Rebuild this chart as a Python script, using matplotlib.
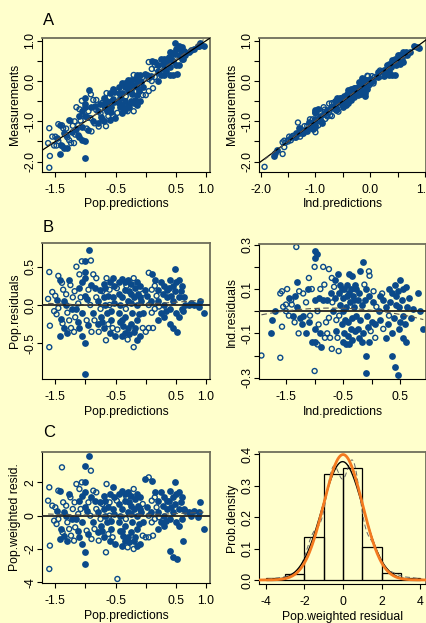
import numpy as np
import matplotlib
matplotlib.use("Agg")
import matplotlib.pyplot as plt

plt.rcParams['font.family'] = ['Liberation Sans', 'DejaVu Sans']

# population predictions, residuals, weighted residuals, open-symbol flag
pop_pred = [-1.60, -1.62, -1.59, -1.60, -1.55, -1.50, -1.45, -1.42, -1.39, -1.37,
            -1.35, -1.48, -1.45, -1.41, -1.42, -1.35, -1.30, -1.38, -1.30, -1.27,
            -1.33, -1.25, -1.21, -1.22, -1.52, -1.47, -1.28, -1.24, -1.32, -1.18,
            -1.15, -1.06, -1.00, -1.00, -1.00, -0.94, -0.91, -1.10, -1.05, -1.10,
            -1.00, -0.95, -1.15, -1.05, -0.98, -1.10, -1.19, -1.05, -1.00, -1.00,
            -0.90, -0.95, -0.92, -1.12, -1.17, -0.88, -0.90, -1.08, -0.97, -1.13,
            -0.82, -0.85, -0.76, -0.70, -0.65, -0.60, -0.55, -0.80, -0.75, -0.70,
            -0.65, -0.60, -0.55, -0.85, -0.80, -0.70, -0.66, -0.60, -0.55, -0.51,
            -0.75, -0.60, -0.52, -0.58, -0.68, -0.82, -0.78, -0.72, -0.63, -0.57,
            -0.87, -0.73, -0.62, -0.53, -0.68,
            -0.45, -0.40, -0.35, -0.30, -0.25, -0.20, -0.15, -0.10, -0.45, -0.40,
            -0.35, -0.30, -0.25, -0.20, -0.15, -0.10, -0.05, -0.45, -0.40, -0.35,
            -0.30, -0.25, -0.20, -0.15, -0.10, -0.05, -0.40, -0.35, -0.30, -0.20,
            -0.15, -0.05, 0.00, -0.48, -0.42, -0.33, -0.28, -0.22, -0.18, -0.12,
            -0.08, -0.38, -0.27, -0.17, -0.47, -0.32, -0.02, -0.24, -0.43, -0.13,
            0.05, 0.10, 0.10, 0.15, 0.20, 0.25, 0.30, 0.35, 0.40, 0.45,
            0.48, 0.50, 0.55, 0.60, 0.05, 0.10, 0.15, 0.20, 0.25, 0.30,
            0.35, 0.40, 0.45, 0.50, 0.55, 0.05, 0.12, 0.20, 0.30, 0.40,
            0.45, 0.52, 0.55, 0.60, 0.02, 0.08, 0.18, 0.28, 0.38, 0.42,
            0.48, 0.33, 0.58, 0.22, 0.15,
            0.65, 0.72, 0.80, 0.86, 0.90, 0.88, 0.96, 0.62, 0.75, 0.64]
pop_res = [0.43, 0.08, -0.27, -0.55, 0.17, 0.12, 0.38, 0.33, 0.29, 0.20,
           0.05, -0.12, -0.04, -0.18, -0.40, -0.30, -0.36, -0.24, -0.10, -0.20,
           0.00, 0.26, 0.10, -0.05, -0.08, 0.06, 0.32, -0.30, 0.14, 0.18,
           0.50, 0.57, 0.58, 0.43, 0.35, 0.72, 0.58, 0.40, 0.30, 0.22,
           0.12, 0.20, -0.05, -0.10, -0.20, -0.30, -0.35, -0.41, -0.50, -0.90,
           -0.35, -0.26, 0.00, 0.02, -0.16, -0.10, 0.26, 0.10, 0.08, -0.22,
           0.35, 0.22, 0.20, 0.28, 0.35, 0.30, 0.35, 0.05, -0.05, 0.10,
           -0.10, 0.00, 0.10, -0.20, -0.25, -0.30, -0.46, -0.36, -0.30, -0.40,
           -0.15, 0.20, 0.25, -0.20, 0.00, 0.10, -0.35, 0.18, 0.12, -0.08,
           0.40, -0.22, -0.25, 0.02, 0.22,
           0.30, 0.34, 0.30, 0.32, 0.28, 0.35, 0.30, 0.25, 0.15, 0.10,
           0.20, 0.05, 0.15, 0.10, 0.00, 0.10, 0.15, -0.10, -0.20, -0.15,
           -0.30, -0.25, -0.35, -0.20, -0.40, -0.10, -0.40, -0.36, -0.45, -0.55,
           -0.45, -0.30, -0.35, 0.22, 0.00, -0.05, 0.18, -0.10, 0.22, -0.12,
           0.05, -0.28, -0.38, -0.30, -0.32, 0.25, 0.20, 0.02, -0.22, 0.14,
           0.42, 0.40, 0.20, 0.25, 0.20, 0.30, 0.25, 0.20, 0.32, 0.25,
           0.47, 0.30, 0.33, 0.25, 0.00, -0.10, -0.05, 0.05, -0.10, 0.00,
           0.10, -0.05, 0.05, -0.10, 0.10, -0.30, -0.30, -0.20, -0.15, -0.25,
           -0.30, -0.35, -0.15, -0.05, 0.12, 0.05, 0.12, 0.15, 0.22, 0.12,
           0.18, -0.08, 0.18, -0.02, 0.32,
           0.00, 0.00, 0.00, 0.00, 0.05, -0.02, -0.10, -0.08, 0.02, 0.10]
pop_wres = [1.7, 0.9, -1.8, -3.2, 0.6, 0.5, 1.5, 1.5, 2.9, 0.8,
            0.2, -0.5, -0.2, -0.8, -1.4, -1.2, -1.5, -1.0, -0.4, -0.8,
            0.0, 1.1, 0.4, -0.2, -0.3, 0.3, 1.3, -1.2, 0.6, 0.8,
            1.9, 2.0, 3.0, 2.0, 1.4, 3.6, 2.7, 1.6, 1.2, 0.9,
            0.5, 0.8, -0.2, -0.4, -0.9, -1.3, -1.5, -1.7, -2.2, -2.9,
            -1.4, -1.1, 0.0, 0.1, -0.7, -0.4, 1.1, 0.4, 0.3, -0.9,
            1.4, 0.9, 0.8, 1.2, 1.9, 1.3, 1.7, 0.2, -0.2, 0.4,
            -0.4, 0.0, 0.4, -0.8, -1.0, -1.3, -2.2, -1.5, -1.3, -1.7,
            -0.6, 0.8, 1.1, -0.8, 0.0, 0.4, -1.5, 0.7, 0.5, -0.3,
            1.5, -0.9, -1.1, 0.1, 0.9,
            1.3, 1.5, 1.3, 1.4, 1.2, 1.6, 1.3, 1.1, 0.7, 0.4,
            0.9, 0.2, 0.6, 0.4, 0.0, 0.4, 0.7, -0.4, -0.9, -0.6,
            -1.3, -1.0, -1.5, -0.8, -1.7, -0.4, -1.8, -1.5, -1.9, -2.0,
            -1.8, -1.2, -1.3, 0.9, 0.0, -0.2, 0.8, -0.4, 1.0, -0.5,
            0.2, -1.2, -1.6, -1.3, -3.8, 1.1, 2.2, 0.1, -0.9, 0.6,
            2.3, 2.1, 0.9, 1.1, 0.9, 1.4, 1.1, 0.9, 1.5, 1.1,
            2.0, 1.3, 1.4, 1.1, 0.0, -0.4, -0.2, 0.2, -0.4, 0.0,
            0.4, -0.2, 0.2, -0.4, 0.4, -1.3, -1.2, -0.8, -0.6, -2.1,
            -2.5, -2.6, -0.6, -0.2, 0.5, 0.2, 0.5, 0.6, 0.9, 0.5,
            0.7, -0.3, 0.8, -0.1, 1.4,
            0.3, 0.2, 0.3, -0.1, 0.8, 0.2, -0.8, -1.5, 0.0, 0.4]
pop_open = [1, 1, 1, 1, 1, 1, 1, 0, 1, 1, 0, 1, 1, 0, 0, 0, 0, 1, 1, 1,
            0, 1, 1, 0, 1, 0, 0, 1, 1, 1,
            1, 1, 0, 0, 0, 0, 1, 1, 0, 0, 0, 1, 0, 0, 1, 0, 1, 0, 0, 0,
            1, 0, 1, 1, 1, 0, 0, 1, 0, 0,
            1, 0, 0, 0, 1, 0, 0, 0, 1, 0, 0, 1, 0, 1, 0, 0, 1, 0, 1, 0,
            0, 1, 0, 0, 0, 1, 1, 1, 0, 0, 1, 0, 1, 0, 0,
            0, 0, 0, 0, 0, 1, 0, 0, 0, 0, 0, 0, 0, 0, 0, 0, 1, 0, 0, 0,
            0, 0, 0, 0, 0, 0, 0, 0, 1, 1, 0, 1, 1, 1, 0, 1, 0, 0, 0, 0,
            0, 0, 0, 0, 1, 1, 0, 0, 0, 0,
            1, 0, 1, 1, 0, 0, 0, 0, 0, 0, 0, 0, 0, 0, 1, 1, 1, 0, 0, 0,
            0, 0, 0, 0, 0, 1, 1, 0, 0, 0, 0, 0, 0, 0, 0, 0, 1, 0, 0, 0,
            0, 0, 0, 1, 0,
            0, 0, 0, 0, 0, 0, 0, 0, 0, 0]

# individual predictions, residuals, open-symbol flag
ind_pred = [-1.93, -1.76, -1.74, -1.70, -1.60, -1.57, -1.55, -1.50, -1.45, -1.60,
            -1.57, -1.48, -1.41, -1.35, -1.30, -1.30, -1.25, -1.35, -1.28, -1.32,
            -1.20, -1.20, -1.38, -1.45, -1.27, -1.22, -1.40, -1.50,
            -1.00, -0.95, -1.00, -1.00, -0.85, -1.10, -1.05, -0.90, -1.00, -0.95,
            -1.10, -1.00, -0.90, -1.00, -0.95, -0.88, -1.00, -1.15, -0.85, -0.80,
            -1.15, -1.08, -0.92, -0.83, -1.05, -0.93, -1.12, -0.82,
            -0.75, -0.70, -0.60, -0.55, -0.40, -0.35, -0.30, -0.70, -0.60, -0.50,
            -0.45, -0.40, -0.35, -0.30, -0.78, -0.75, -0.72, -0.68, -0.65, -0.62,
            -0.58, -0.55, -0.52, -0.50, -0.48, -0.45, -0.42, -0.40, -0.38, -0.36,
            -0.33, -0.32, -0.78, -0.66, -0.63, -0.57, -0.53, -0.47, -0.43, -0.37,
            -0.73, -0.58, -0.48, -0.64, -0.44, -0.34, -0.51, -0.69, -0.42, -0.31,
            -0.20, -0.15, -0.05, -0.04, -0.10, -0.25, -0.10, -0.10, -0.05, 0.00,
            -0.28, -0.25, -0.22, -0.20, -0.18, -0.15, -0.12, -0.08, -0.05, -0.02,
            0.02, 0.05, 0.08, -0.27, -0.17, -0.13, -0.07, 0.03, 0.06, -0.23,
            0.20, 0.30, 0.35, 0.40, 0.45, 0.50, 0.55, 0.60, 0.65, 0.80,
            0.35, 0.40, 0.45, 0.60, 0.90, 0.85, 0.50, 0.55, 0.20, 0.12,
            0.15, 0.18, 0.25, 0.28, 0.32, 0.38, 0.42, 0.47, 0.52, 0.58,
            0.62, 0.68, 0.72, 0.48, 0.25, 0.15, 0.35, 0.55, 0.42, 0.30]
ind_res = [-0.20, -0.10, -0.04, 0.00, 0.08, 0.09, 0.02, 0.00, -0.02, -0.21,
           -0.07, 0.10, 0.05, 0.07, 0.13, 0.02, -0.03, -0.05, -0.10, 0.29,
           0.08, -0.02, -0.02, 0.06, 0.09, -0.06, 0.03, 0.03,
           0.27, 0.26, 0.24, 0.20, 0.20, 0.15, 0.10, 0.10, 0.05, 0.00,
           -0.05, -0.08, -0.10, -0.14, -0.15, -0.16, -0.27, -0.10, 0.05, -0.05,
           0.04, -0.02, 0.06, 0.12, -0.14, -0.06, 0.10, -0.12,
           0.19, 0.15, 0.17, 0.12, 0.17, 0.16, 0.12, -0.17, -0.12, -0.14,
           -0.15, -0.15, -0.13, -0.09, 0.05, -0.03, 0.08, 0.00, 0.06, -0.04,
           0.08, 0.03, -0.06, 0.06, 0.10, 0.02, -0.05, 0.08, 0.04, -0.08,
           0.07, 0.02, -0.10, 0.11, -0.09, -0.02, 0.10, -0.04, 0.12, 0.10,
           -0.12, -0.18, -0.10, 0.14, 0.07, -0.03, 0.00, 0.04, -0.11, 0.05,
           0.18, 0.22, 0.18, 0.16, 0.10, 0.05, -0.20, -0.28, -0.14, -0.05,
           -0.02, -0.08, 0.08, -0.04, 0.03, -0.10, 0.05, -0.02, 0.07, -0.09,
           0.04, -0.06, 0.02, 0.10, -0.14, 0.12, -0.07, 0.09, -0.12, -0.12,
           0.05, 0.10, 0.08, 0.12, 0.09, 0.14, 0.10, 0.11, 0.06, 0.08,
           -0.20, -0.25, -0.29, -0.14, -0.08, 0.00, -0.05, -0.02, -0.08, 0.00,
           -0.04, 0.08, 0.02, -0.06, 0.04, -0.03, 0.03, -0.08, 0.05, -0.06,
           0.02, -0.03, 0.01, 0.02, -0.12, 0.07, -0.10, -0.12, 0.07, -0.02]
ind_open = [1, 0, 0, 0, 1, 1, 1, 1, 1, 1, 1, 1, 1, 0, 0, 0, 0, 1, 1, 1,
            1, 0, 0, 0, 1, 0, 1, 1,
            0, 0, 0, 1, 1, 1, 1, 1, 0, 1, 0, 0, 0, 0, 1, 0, 1, 0, 0, 1,
            1, 1, 0, 1, 0, 1, 0, 1,
            1, 1, 0, 0, 0, 0, 0, 1, 1, 0, 0, 0, 0, 0, 0, 1, 0, 0, 0, 1,
            0, 0, 0, 0, 0, 0, 0, 0, 0, 0, 0, 0, 1, 1, 0, 1, 0, 0, 0, 0,
            1, 1, 0, 0, 0, 0, 0, 1, 0, 0,
            0, 0, 1, 1, 0, 0, 0, 0, 0, 0, 0, 0, 0, 0, 0, 0, 0, 0, 0, 1,
            0, 0, 1, 0, 0, 1, 0, 1, 1, 0,
            0, 0, 0, 0, 0, 0, 0, 0, 0, 0, 0, 0, 0, 0, 0, 0, 0, 0, 1, 0,
            0, 1, 0, 0, 0, 0, 0, 0, 0, 0, 0, 0, 0, 0, 0, 0, 0, 0, 0, 1]

# histogram of population weighted residuals (density per unit bin)
hist_edges = [-4, -3, -2, -1, 0, 1, 2, 3, 4]
hist_density = [0.005, 0.018, 0.138, 0.336, 0.357, 0.104, 0.021, 0.007]

bg = '#FFFFCC'
blue = '#0B4A8A'
W, H = 427, 623

pop_pred = np.array(pop_pred)
pop_res = np.array(pop_res)
pop_wres = np.array(pop_wres)
pop_open = np.array(pop_open, dtype=bool)
ind_pred = np.array(ind_pred)
ind_res = np.array(ind_res)
ind_open = np.array(ind_open, dtype=bool)
pop_meas = pop_pred + pop_res
ind_meas = ind_pred + ind_res

fig = plt.figure(figsize=(W / 100, H / 100), dpi=100, facecolor=bg)


def px_axes(l, t, r, b):
    return fig.add_axes([l / W, 1 - b / H, (r - l) / W, (b - t) / H])


def r_style(ax, xlim, ylim, xt, xtl, yt, ytl, xlab, ylab):
    ax.set_facecolor(bg)
    ax.set_xlim(xlim)
    ax.set_ylim(ylim)
    ax.set_xticks(xt)
    ax.set_xticklabels(xtl, fontsize=8.8)
    ax.set_yticks(yt)
    ax.set_yticklabels(ytl, fontsize=8.8, rotation=90, va='center')
    for s in ['top', 'right']:
        ax.spines[s].set_color('#6E6E5A')
        ax.spines[s].set_linewidth(1.3)
    for s in ['left', 'bottom']:
        ax.spines[s].set_color('black')
        ax.spines[s].set_linewidth(0.8)
    ax.tick_params(axis='both', direction='out', length=3.5, width=0.8)
    ax.tick_params(axis='x', pad=5)
    ax.tick_params(axis='y', pad=1)
    ax.set_xlabel(xlab, fontsize=8.8, labelpad=2)
    ax.set_ylabel(ylab, fontsize=8.8, labelpad=2)


def points(ax, x, y, op):
    ax.scatter(x[~op], y[~op], s=24, color=blue, linewidths=0, zorder=2)
    ax.scatter(x[op], y[op], s=13, facecolors='none', edgecolors=blue,
               linewidths=1.0, zorder=2)


def smooth(ax, x, y):
    c = np.polyfit(x, y, 2)
    xs = np.linspace(x.min(), x.max(), 50)
    ax.plot(xs, np.polyval(c, xs), ls=(0, (5, 3)), color='#555555', lw=0.8,
            zorder=3)


pop_xt = [-1.5, -1.0, -0.5, 0.0, 0.5, 1.0]
pop_xtl = ['-1.5', '', '-0.5', '', '0.5', '1.0']
meas_yt = [-2.0, -1.5, -1.0, -0.5, 0.0, 0.5, 1.0]
meas_ytl = ['-2.0', '', '-1.0', '', '0.0', '', '1.0']

# A left
ax = px_axes(42.3, 37.7, 210, 171.7)
points(ax, pop_pred, pop_meas, pop_open)
ax.plot([-3, 3], [-3, 3], color='black', lw=0.9, zorder=3)
smooth(ax, pop_pred, pop_meas)
r_style(ax, (-1.716, 1.066), (-2.25, 1.075), pop_xt, pop_xtl,
        meas_yt, meas_ytl, 'Pop.predictions', 'Measurements')

# A right
ax = px_axes(259.3, 37.7, 426, 171.7)
points(ax, ind_pred, ind_meas, ind_open)
ax.plot([-3, 3], [-3, 3], color='black', lw=0.9, zorder=3)
smooth(ax, ind_pred, ind_meas)
r_style(ax, (-2.026, 1.02), (-2.25, 1.075),
        [-2.0, -1.5, -1.0, -0.5, 0.0, 0.5, 1.0],
        ['-2.0', '', '-1.0', '', '0.0', '', '1.0'],
        meas_yt, meas_ytl, 'Ind.predictions', 'Measurements')

# B left
ax = px_axes(42.3, 243.3, 210, 379)
points(ax, pop_pred, pop_res, pop_open)
ax.axhline(0, color='#222222', lw=1.3, zorder=3)
smooth(ax, pop_pred, pop_res)
r_style(ax, (-1.716, 1.066), (-0.965, 0.805), pop_xt, pop_xtl,
        [-0.5, 0.0, 0.5], ['-0.5', '0.0', '0.5'],
        'Pop.predictions', 'Pop.residuals')

# B right
ax = px_axes(259.3, 244.3, 426, 379)
points(ax, ind_pred, ind_res, ind_open)
ax.axhline(0, color='#222222', lw=1.3, zorder=3)
smooth(ax, ind_pred, ind_res)
r_style(ax, (-1.967, 0.947), (-0.306, 0.302),
        [-1.5, -1.0, -0.5, 0.0, 0.5], ['-1.5', '', '-0.5', '', '0.5'],
        [-0.3, -0.2, -0.1, 0.0, 0.1, 0.2, 0.3],
        ['-0.3', '', '-0.1', '', '0.1', '', '0.3'],
        'Ind.predictions', 'Ind.residuals')

# C left
ax = px_axes(42.3, 451.7, 210, 583.3)
points(ax, pop_pred, pop_wres, pop_open)
ax.axhline(0, color='#222222', lw=1.3, zorder=3)
smooth(ax, pop_pred, pop_wres)
r_style(ax, (-1.716, 1.066), (-4.06, 3.84), pop_xt, pop_xtl,
        [-4, -2, 0, 2], ['-4', '-2', '0', '2'],
        'Pop.predictions', 'Pop.weighted resid.')

# C right: histogram with density curves
ax = px_axes(259.3, 452, 425.7, 584.3)
ax.bar(hist_edges[:-1], hist_density, width=1, align='edge',
       facecolor='none', edgecolor='black', lw=0.9, zorder=2)
centers = np.array(hist_edges[:-1]) + 0.5
p = np.array(hist_density) / np.sum(hist_density)
mu = np.sum(p * centers)
sd = np.sqrt(np.sum(p * (centers - mu) ** 2))
xs = np.linspace(-4.3, 4.3, 300)
fit = np.exp(-(xs - mu) ** 2 / (2 * sd ** 2)) / (sd * np.sqrt(2 * np.pi))
k = 0.4
smoothed = (p[None, :] * np.exp(-(xs[:, None] - centers[None, :]) ** 2
            / (2 * k * k))).sum(1) / (k * np.sqrt(2 * np.pi))
std_norm = np.exp(-xs ** 2 / 2) / np.sqrt(2 * np.pi)
ax.plot(xs, smoothed, ls=(0, (5, 3)), color='#666666', lw=0.7, zorder=3)
ax.plot(xs, fit, color='black', lw=1.0, zorder=3)
ax.plot(xs, std_norm, color='#F47A1F', lw=2.0, zorder=4)
r_style(ax, (-4.33, 4.27), (-0.0137, 0.407), [-4, -2, 0, 2, 4],
        ['-4', '-2', '0', '2', '4'], [0.0, 0.1, 0.2, 0.3, 0.4],
        ['0.0', '0.1', '0.2', '0.3', '0.4'],
        'Pop.weighted residual', 'Prob.density')

for lab, ybase in [('A', 25), ('B', 231.7), ('C', 436.7)]:
    fig.text(43 / W, 1 - ybase / H, lab, fontsize=12, va='baseline')

fig.savefig('out.png', dpi=100, facecolor=bg)
